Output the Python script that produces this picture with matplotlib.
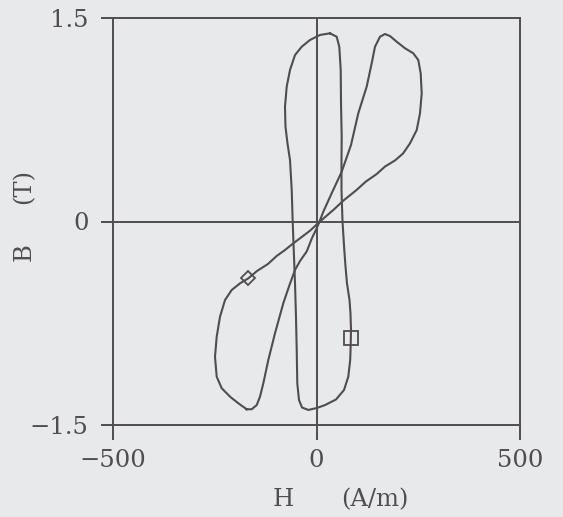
import numpy as np
import matplotlib
matplotlib.use("Agg")
import matplotlib.pyplot as plt

# Inner (narrow) loop, H in A/m, B in T
inner_h = [33.2, 49.6, 56.0, 59.5, 60.2, 61.9, 61.4, 61.4, 63.9, 68.3,
           71.3, 74.9, 81.1, 83.5, 84.8, 84.0, 82.8, 78.1, 67.6, 47.9,
           20.9, 0.5, -20.1, -35.6, -43.0, -47.2, -48.6, -50.4, -52.8, -55.3,
           -58.5, -60.9, -65.1, -71.3, -76.2, -77.4, -73.2, -65.1, -52.8, -36.4,
           -16.0, 8.6]
inner_b = [1.387, 1.362, 1.288, 1.117, 0.873, 0.625, 0.453, 0.232, 0.0, -0.210,
           -0.333, -0.456, -0.579, -0.677, -0.800, -0.910, -1.021, -1.144, -1.242, -1.312,
           -1.353, -1.375, -1.389, -1.371, -1.316, -1.193, -0.947, -0.702, -0.456, -0.259,
           0.0, 0.232, 0.453, 0.576, 0.699, 0.846, 0.994, 1.117, 1.227, 1.288,
           1.338, 1.375]

# Outer figure-eight loop
outer_h = [-171.5, -159.2, -146.9, -138.8, -130.7, -118.4, -102.0, -81.6, -66.3, -52.8,
           -40.5, -24.1, -11.1, 0.5, 7.4, 16.7, 37.3, 61.9, 84.8, 102.7,
           123.3, 135.6, 143.7, 156.0, 168.3, 180.6, 197.1, 217.4, 237.8, 250.1,
           256.0, 258.5, 254.3, 246.2, 229.7, 212.5, 192.9, 168.3, 147.9, 121.6,
           97.1, 67.6, 41.3, 8.6, -16.0, -57.0, -77.4, -97.8, -119.2, -146.2,
           -167.6, -188.0, -208.4, -224.8, -237.1, -245.2, -249.4, -245.2, -232.9, -212.5,
           -192.1]
outer_b = [-1.384, -1.384, -1.353, -1.291, -1.193, -1.021, -0.824, -0.603, -0.468, -0.357,
           -0.291, -0.221, -0.122, -0.050, 0.0, 0.072, 0.208, 0.367, 0.564, 0.798,
           0.994, 1.166, 1.288, 1.362, 1.382, 1.367, 1.325, 1.277, 1.240, 1.190,
           1.092, 0.945, 0.798, 0.674, 0.576, 0.501, 0.450, 0.405, 0.350, 0.295,
           0.229, 0.158, 0.085, 0.0, -0.068, -0.161, -0.210, -0.254, -0.313, -0.365,
           -0.419, -0.456, -0.505, -0.579, -0.702, -0.849, -0.997, -1.144, -1.229, -1.291,
           -1.340]

# Marked points
square_pt = (84.0, -0.861)
diamond_pt = (-167.6, -0.419)

x_ticks = [-500, 0, 500]
x_ticklabels = ["\u2212500", "0", "500"]
y_ticks = [-1.5, 0, 1.5]
y_ticklabels = ["\u22121.5", "0", "1.5"]

BG = "#e7e9eb"
INK = "#504c50"
FONT = "DejaVu Serif"
FS = 17.5

plt.rcParams["font.family"] = FONT

W, H = 563, 517
fig = plt.figure(figsize=(W / 100, H / 100), dpi=100, facecolor=BG)
ax = fig.add_axes([113 / W, 1 - 425 / H, 407 / W, 407 / H], facecolor=BG)

ax.axhline(0, color=INK, lw=1.4)
ax.axvline(0, color=INK, lw=1.4)

ax.plot(np.append(inner_h, inner_h[0]), np.append(inner_b, inner_b[0]),
        color=INK, lw=1.5, solid_joinstyle="round")
ax.plot(np.append(outer_h, outer_h[0]), np.append(outer_b, outer_b[0]),
        color=INK, lw=1.5, solid_joinstyle="round")

ax.plot(*square_pt, marker="s", ms=10, mfc="none", mec=INK, mew=1.3)
ax.plot(*diamond_pt, marker="D", ms=7, mfc="none", mec=INK, mew=1.3)

ax.set_xlim(-500, 500)
ax.set_ylim(-1.5, 1.5)

for sp in ax.spines.values():
    sp.set_color(INK)
    sp.set_linewidth(1.4)

ax.set_xticks(x_ticks)
ax.set_xticklabels(x_ticklabels)
ax.set_yticks(y_ticks)
ax.set_yticklabels(y_ticklabels)
ax.tick_params(axis="x", direction="out", length=11, width=1.4, color=INK,
               labelcolor=INK, labelsize=FS, pad=6)
ax.tick_params(axis="y", direction="out", length=8.5, width=1.4, color=INK,
               labelcolor=INK, labelsize=FS, pad=9)

# axis titles, the unit set apart from the symbol
fig.text(283.5 / W, 1 - 500 / H, "H", ha="center", va="center",
         fontsize=FS, color=INK)
fig.text(375 / W, 1 - 500 / H, "(A/m)", ha="center", va="center",
         fontsize=FS, color=INK)
fig.text(24 / W, 1 - 252 / H, "B", ha="center", va="center",
         rotation=90, fontsize=FS, color=INK)
fig.text(24 / W, 1 - 186 / H, "(T)", ha="center", va="center",
         rotation=90, fontsize=FS, color=INK)

fig.savefig("out.png", dpi=100, facecolor=BG)
